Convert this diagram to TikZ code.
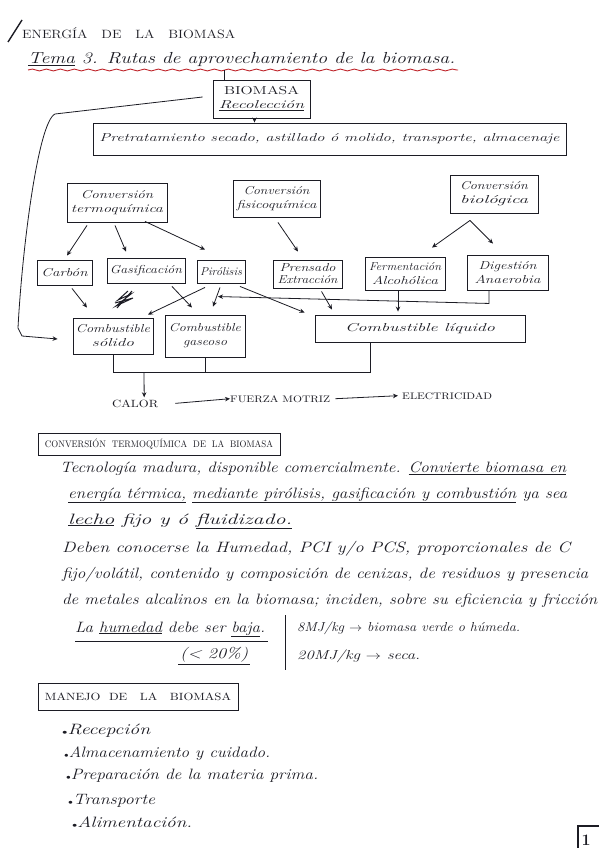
\documentclass[tikz,border=0pt]{standalone}
\usepackage{graphicx}
\usetikzlibrary{arrows.meta,decorations.pathmorphing}
\definecolor{ink}{HTML}{1C1C24}
\definecolor{redink}{HTML}{C0282E}
\newcommand\hw[2]{\resizebox{#1}{\height}{#2}}
\newcommand\bul{{\scriptsize$\bullet$}}
\begin{document}
\begin{tikzpicture}[x=1pt,y=-1pt,
 box/.style={draw=ink,line width=0.9pt,inner sep=0pt,align=center,font=\fontsize{11.5}{14}\selectfont\itshape,text=ink},
 arr/.style={draw=ink,line width=0.8pt,-{Stealth[length=5pt,width=4.5pt]}},
 ln/.style={draw=ink,line width=0.8pt},
 txt/.style={anchor=base west,inner sep=0pt,text=ink,font=\fontsize{15}{17}\selectfont\itshape},
 captx/.style={anchor=base west,inner sep=0pt,text=ink,font=\fontsize{10}{12}\selectfont},
 uline/.style={draw=ink,line width=0.7pt},
]
\fill[white] (0,0) rectangle (599,848);
\useasboundingbox (0,0) rectangle (599,848);

% ---------- title ----------
\draw[ink,line width=1.4pt] (8,42) -- (22,20);
\node[captx,font=\fontsize{12}{14}\selectfont] (title) at (22,39) {\hw{213pt}{ENERGÍA \ \ DE \ \ LA \ \ BIOMASA}};
\node[txt,font=\fontsize{16}{18}\selectfont\itshape] (tema) at (28,64) {\hw{427pt}{\underline{Tema} 3. Rutas de aprovechamiento de la biomasa.}};
\draw[redink,line width=0.9pt,decorate,decoration={snake,amplitude=0.9pt,segment length=14pt}] (28,70) -- (458,70);

% ---------- diagram boxes ----------
\node[box,minimum width=97pt,minimum height=38pt] (bio0) at (261.5,99) {\hw{75pt}{\upshape BIOMASA}\\\hw{85pt}{\underline{Recolección}}};
\node[box,minimum width=473pt,minimum height=32pt] (pret) at (329.5,139) {\hw{460pt}{Pretratamiento secado, astillado ó molido, transporte, almacenaje}};

\node[box,minimum width=100pt,minimum height=39pt] (termo) at (117,202.5) {\hw{72pt}{Conversión}\\\hw{92pt}{termoquímica}};
\node[box,minimum width=87pt,minimum height=37pt] (fisico) at (276.5,198.5) {\hw{66pt}{Conversión}\\\hw{80pt}{fisicoquímica}};
\node[box,minimum width=88pt,minimum height=38pt] (biol) at (494,194) {\hw{68pt}{Conversión}\\\hw{68pt}{biológica}};

\node[box,minimum width=55pt,minimum height=25pt] (carbon) at (64.5,272.5) {\hw{46pt}{Carbón}};
\node[box,minimum width=78pt,minimum height=25pt] (gasif) at (146,270.5) {\hw{72pt}{Gasificación}};
\node[box,minimum width=48pt,minimum height=23pt] (piro) at (221,271.5) {\hw{42pt}{Pirólisis}};
\node[box,minimum width=69pt,minimum height=28pt] (prens) at (307.5,274) {\hw{56pt}{Prensado}\\[-2pt]\hw{60pt}{Extracción}};
\node[box,minimum width=80pt,minimum height=33pt] (ferm) at (405,273.5) {\hw{72pt}{Fermentación}\\\hw{66pt}{Alcohólica}};
\node[box,minimum width=81pt,minimum height=35pt] (dig) at (507.5,272.5) {\hw{58pt}{Digestión}\\\hw{66pt}{Anaerobia}};

\node[box,minimum width=80pt,minimum height=36pt] (solido) at (113,336) {\hw{74pt}{Combustible}\\\hw{42pt}{sólido}};
\node[box,minimum width=80pt,minimum height=42pt] (gaseoso) at (205,336) {\hw{72pt}{Combustible}\\\hw{44pt}{gaseoso}};
\node[box,minimum width=210pt,minimum height=27pt] (liquido) at (420,328.5) {\hw{150pt}{Combustible líquido}};

% ---------- connectors ----------
\draw[ln] ([xshift=-37pt]bio0.north) -- ++(0,-10);
\draw[arr] ([xshift=-7pt]bio0.south) -- ([xshift=-75pt]pret.north);
\draw[arr] ([xshift=-10pt,yshift=2pt]bio0.west) -- (55,114) .. controls (38,122) and (22,250) .. (18,328) -- (22,336) -- ([xshift=-15pt,yshift=-3pt]solido.west);

\draw[arr] ([xshift=-30pt,yshift=-3pt]termo.south) -- ([xshift=2.5pt,yshift=4pt]carbon.north);
\draw[arr] ([xshift=-2pt,yshift=-3pt]termo.south) -- ([xshift=-20pt,yshift=6pt]gasif.north);
\draw[arr] ([xshift=28pt,yshift=1pt]termo.south) -- ([xshift=-16pt,yshift=10pt]piro.north);
\draw[arr] ([xshift=1.5pt,yshift=-5pt]fisico.south) -- ([xshift=-9.5pt,yshift=8pt]prens.north);
\coordinate (bj) at ([xshift=-24pt,yshift=-7pt]biol.south);
\draw[arr] (bj) -- ([xshift=27pt,yshift=9pt]ferm.north);
\draw[arr] (bj) -- ([xshift=-14.5pt,yshift=11pt]dig.north);

\draw[arr] ([xshift=7.5pt,yshift=-3pt]carbon.south) -- ([xshift=-26pt,yshift=10pt]solido.north);
\draw[arr] ([xshift=26pt,yshift=-3pt]gasif.south) -- ([xshift=-13pt,yshift=7pt]gaseoso.north);
\draw[arr] ([xshift=-16pt,yshift=-4pt]piro.south) -- ([xshift=35pt,yshift=3pt]solido.north);
\draw[arr] ([xshift=-1pt,yshift=-4pt]piro.south) -- ([xshift=8pt,yshift=8pt]gaseoso.north);
\draw[arr] ([xshift=19pt,yshift=-3pt]piro.south) -- ([xshift=-10pt,yshift=2pt]liquido.north west);
\draw[arr] ([xshift=14pt,yshift=-3pt]prens.south) -- ([xshift=-88pt,yshift=5pt]liquido.north);
\draw[arr] ([xshift=-7pt,yshift=-1pt]ferm.south) -- ([xshift=-22pt,yshift=3pt]liquido.north);
\draw[arr] ([xshift=-18.5pt]dig.south) -- ++(0,13) -- ([xshift=13pt,yshift=18pt]gaseoso.north);

% scribble
\draw[ink,line width=1pt] (117,308) -- (132,291) (115,303) -- (133,298) -- (116,306) -- (131,294) -- (118,300) -- (128,291);

% collector
\draw[ln] (solido.south) -- ++(0,18) coordinate (c1) -| ([xshift=-50pt]liquido.south);
\draw[ln] (gaseoso.south) -- (gaseoso.south |- c1);

\node[captx,font=\fontsize{10.5}{12}\selectfont] (calor) at (112,407) {\hw{46pt}{CALOR}};
\node[captx,font=\fontsize{9.5}{12}\selectfont] (fuerza) at (230,402) {\hw{100pt}{FUERZA MOTRIZ}};
\node[captx,font=\fontsize{9.5}{12}\selectfont] (elec) at (402,399) {\hw{90pt}{ELECTRICIDAD}};
\draw[arr] ([xshift=31pt]c1) -- ([xshift=9pt,yshift=2pt]calor.north);
\draw[arr] ([xshift=17pt]calor.east) -- (fuerza.west);
\draw[arr] ([xshift=5pt]fuerza.east) -- ([xshift=-4pt]elec.west);

% ---------- text section ----------
\node[draw=ink,line width=0.9pt,minimum width=242pt,minimum height=22pt,inner sep=0pt,font=\fontsize{9.5}{11}\selectfont,text=ink] (h1) at (159,444) {\hw{228pt}{CONVERSIÓN \ TERMOQUÍMICA \ DE \ LA \ BIOMASA}};

\node[txt] (l1) at (60,472) {\hw{506pt}{Tecnología madura, disponible comercialmente. \underline{Convierte biomasa en}}};
\node[txt] (l2) at (68,498) {\hw{499pt}{\underline{energía térmica,} \underline{mediante pirólisis, gasificación y combustión} ya sea}};
\node[txt] (l3) at (68,524) {\hw{224pt}{\underline{lecho} fijo y ó \underline{fluidizado.}}};

\node[txt] (l4) at (62,552) {\hw{508pt}{Deben conocerse la Humedad, PCI y/o PCS, proporcionales de C}};
\node[txt] (l5) at (62,578) {\hw{526pt}{fijo/volátil, contenido y composición de cenizas, de residuos y presencia}};
\node[txt] (l6) at (62,604) {\hw{535pt}{de metales alcalinos en la biomasa; inciden, sobre su eficiencia y fricción}};

\node[txt] (l7) at (75,632) {\hw{190pt}{La \underline{humedad} debe ser \underline{baja}.}};
\node[txt] (l8) at (180,658) {\hw{68pt}{(< 20\%)}};
\draw[uline] (75,641) -- (268,641);
\draw[uline] (178,664) -- (250,664);
\draw[ln] (285,615) -- (285,670);
\node[txt,font=\fontsize{13}{15}\selectfont\itshape] (m1) at (297,631) {\hw{223pt}{8MJ/kg $\rightarrow$ biomasa verde o húmeda.}};
\node[txt,font=\fontsize{13}{15}\selectfont\itshape] (m2) at (297,659) {\hw{123pt}{20MJ/kg $\rightarrow$ seca.}};

\node[draw=ink,line width=0.9pt,minimum width=200pt,minimum height=27pt,inner sep=0pt,font=\fontsize{10.5}{12}\selectfont,text=ink] (h2) at (138,697) {\hw{186pt}{MANEJO \ DE \ \ LA \ \ BIOMASA}};

\node[txt] (b1) at (62,734) {\hw{88pt}{\bul Recepción}};
\node[txt] (b2) at (64,757) {\hw{206pt}{\bul Almacenamiento y cuidado.}};
\node[txt] (b3) at (66,779) {\hw{252pt}{\bul Preparación de la materia prima.}};
\node[txt] (b4) at (68,804) {\hw{87pt}{\bul Transporte}};
\node[txt] (b5) at (72,827) {\hw{120pt}{\bul Alimentación.}};

% page number
\draw[ln,line width=1.1pt] (578,848) -- (578,826) -- (599,826);
\node[anchor=base,inner sep=0pt,text=ink,font=\fontsize{16}{18}\selectfont\bfseries] (pg) at (586,845) {1};
\end{tikzpicture}
\end{document}
